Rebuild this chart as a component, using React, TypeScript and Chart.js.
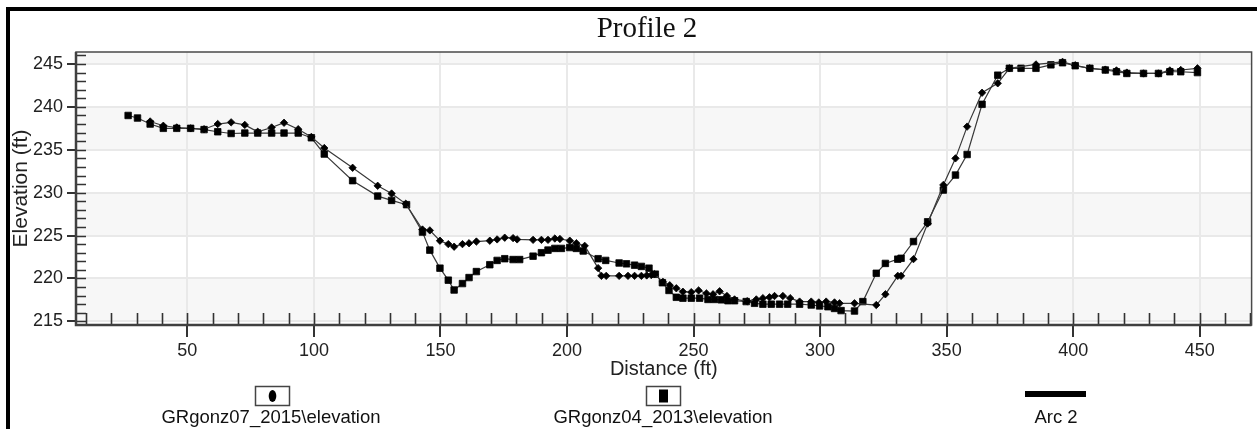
import React, { useEffect, useRef } from "react";
import { Chart, registerables } from "chart.js";

Chart.register(...registerables);

const chartTitle = "Profile 2";
const xAxisTitle = "Distance (ft)";
const yAxisTitle = "Elevation (ft)";
const legendLabels = ["GRgonz07_2015\\elevation", "GRgonz04_2013\\elevation", "Arc 2"];

const xTicks = [50, 100, 150, 200, 250, 300, 350, 400, 450];
const yTicks = [215, 220, 225, 230, 235, 240, 245];

// GRgonz07_2015 (diamonds)
const x2015 = [
  35.3, 40.5, 45.8, 51.3, 56.6, 62.0, 67.3, 72.7, 77.8, 83.3, 88.2, 93.8, 99.0, 104.1, 115.3, 125.2,
  130.7, 136.3, 142.9, 145.8, 149.8, 153.1, 155.4, 158.7, 161.3, 164.2, 169.5, 172.4, 175.4, 178.7,
  180.3, 186.6, 189.9, 192.5, 195.2, 197.2, 201.1, 203.7, 207.0, 212.3, 213.6, 215.5, 220.6, 224.1,
  226.7, 229.4, 231.5, 233.3, 234.6, 237.9, 240.6, 243.2, 245.8, 249.1, 252.0, 255.1, 257.7, 260.3,
  263.2, 266.2, 271.2, 274.8, 277.4, 280.0, 282.0, 285.3, 288.2, 291.9, 296.5, 299.5, 302.4, 305.7,
  307.7, 313.6, 322.2, 325.8, 330.7, 332.0, 336.9, 342.5, 348.7, 353.5, 358.1, 364.0, 370.2, 374.8,
  385.3, 395.8, 400.8, 406.6, 412.7, 417.1, 421.2, 427.8, 433.7, 438.2, 442.5, 449.1,
];
const y2015 = [
  238.3, 237.8, 237.6, 237.5, 237.4, 238.0, 238.2, 237.9, 237.1, 237.6, 238.15, 237.4, 236.5, 235.2, 232.9, 230.8,
  229.9, 228.7, 225.7, 225.6, 224.4, 224.0, 223.7, 224.0, 224.1, 224.3, 224.4, 224.55, 224.75, 224.7,
  224.55, 224.5, 224.5, 224.5, 224.65, 224.6, 224.4, 224.1, 223.8, 221.2, 220.3, 220.3, 220.3, 220.3,
  220.3, 220.3, 220.35, 220.4, 220.5, 219.6, 219.2, 218.85, 218.45, 218.4, 218.6, 218.25, 218.15, 218.5,
  217.95, 217.55, 217.35, 217.55, 217.7, 217.8, 217.95, 217.95, 217.7, 217.3, 217.3, 217.2, 217.3, 217.2,
  217.1, 217.1, 216.9, 218.15, 220.3, 220.3, 222.25, 226.4, 230.9, 234.0, 237.7, 241.65, 242.75, 244.5,
  244.95, 245.25, 244.85, 244.5, 244.35, 244.25, 244.0, 243.9, 243.9, 244.25, 244.3, 244.5,
];

// GRgonz04_2013 (squares)
const x2013 = [
  26.6, 30.3, 35.3, 40.5, 45.8, 51.3, 56.6, 62.0, 67.3, 72.7, 77.8, 83.3, 88.2, 93.8, 99.0, 104.1,
  115.3, 125.2, 130.7, 136.6, 142.9, 145.8, 149.8, 153.1, 155.4, 158.7, 161.3, 164.2, 169.5, 172.4,
  175.4, 178.7, 181.3, 186.6, 189.9, 192.5, 195.2, 197.8, 201.1, 203.7, 206.4, 212.3, 215.3, 220.6,
  223.5, 226.7, 229.4, 232.4, 234.9, 237.7, 240.3, 243.2, 245.8, 249.1, 252.4, 255.7, 258.3, 261.0,
  263.6, 266.2, 270.8, 274.1, 277.4, 280.7, 284.0, 287.2, 291.9, 296.5, 299.8, 303.1, 305.7, 308.3,
  313.6, 316.9, 322.2, 325.8, 330.7, 332.0, 336.9, 342.5, 348.7, 353.5, 358.1, 364.0, 370.2, 374.8,
  379.4, 385.3, 391.2, 395.8, 400.8, 406.6, 412.7, 417.1, 421.2, 427.8, 433.7, 438.2, 442.5, 449.1,
];
const y2013 = [
  239.0, 238.7, 238.0, 237.5, 237.5, 237.5, 237.35, 237.1, 236.9, 236.95, 236.95, 236.95, 236.95, 236.95, 236.4, 234.5,
  231.4, 229.6, 229.1, 228.6, 225.4, 223.3, 221.2, 219.8, 218.65, 219.4, 220.1, 220.8, 221.6, 222.1,
  222.3, 222.2, 222.2, 222.6, 223.0, 223.3, 223.5, 223.5, 223.6, 223.5, 223.2, 222.3, 222.1, 221.8,
  221.7, 221.55, 221.4, 221.2, 220.5, 219.5, 218.6, 217.8, 217.7, 217.7, 217.7, 217.55, 217.55, 217.5,
  217.4, 217.4, 217.3, 217.1, 217.0, 217.0, 217.0, 217.0, 217.0, 216.9, 216.8, 216.7, 216.5, 216.25,
  216.2, 217.3, 220.6, 221.75, 222.25, 222.35, 224.3, 226.6, 230.3, 232.05, 234.45, 240.3, 243.7, 244.5,
  244.5, 244.5, 244.9, 245.15, 244.8, 244.5, 244.3, 244.1, 243.9, 243.9, 243.9, 244.1, 244.1, 244.0,
];

const SANS = "Arial, 'Liberation Sans', sans-serif";
const SERIF = "'Times New Roman', 'Liberation Serif', serif";

const decorPlugin = {
  id: "decor",
  beforeDraw(chart: any) {
    const { ctx, chartArea: a, scales } = chart;
    const ys = scales.y;
    ctx.save();
    ctx.fillStyle = "#ffffff";
    ctx.fillRect(0, 0, chart.width, chart.height);
    ctx.beginPath();
    ctx.rect(a.left, a.top, a.right - a.left, a.bottom - a.top);
    ctx.clip();
    for (let v = 210; v < 250; v += 5) {
      const idx = Math.round((v - 215) / 5);
      if (idx % 2 === 0) {
        const y1 = ys.getPixelForValue(v + 5);
        const y0 = ys.getPixelForValue(v);
        ctx.fillStyle = "#f7f7f7";
        ctx.fillRect(a.left, y1, a.right - a.left, y0 - y1);
      }
    }
    ctx.restore();
  },
  afterDraw(chart: any) {
    const { ctx, chartArea: a, scales } = chart;
    const xs = scales.x;
    const ys = scales.y;
    ctx.save();
    // minor ticks (inside)
    ctx.strokeStyle = "#333";
    ctx.lineWidth = 1.6;
    ctx.beginPath();
    for (let v = 215; v <= 246; v += 1) {
      const y = Math.round(ys.getPixelForValue(v)) + 0.5;
      ctx.moveTo(a.left, y);
      ctx.lineTo(a.left + 10, y);
    }
    for (let v = 10; v <= 470; v += 10) {
      const x = Math.round(xs.getPixelForValue(v)) + 0.5;
      ctx.moveTo(x, a.bottom);
      ctx.lineTo(x, a.bottom - 12);
    }
    ctx.stroke();
    // frame
    ctx.strokeStyle = "#4a4a4a";
    ctx.lineWidth = 1.5;
    ctx.strokeRect(a.left, a.top, a.right - a.left, a.bottom - a.top);
    ctx.strokeStyle = "#404040";
    ctx.lineWidth = 2.5;
    ctx.beginPath();
    ctx.moveTo(a.left, a.top);
    ctx.lineTo(a.left, a.bottom);
    ctx.lineTo(a.right, a.bottom);
    ctx.stroke();
    // outer border
    ctx.strokeStyle = "#000";
    ctx.lineWidth = 4;
    ctx.beginPath();
    ctx.moveTo(8, chart.height + 10);
    ctx.lineTo(8, 9);
    ctx.lineTo(chart.width + 10, 9);
    ctx.stroke();
    // title
    ctx.fillStyle = "#111";
    ctx.font = `29px ${SERIF}`;
    ctx.textAlign = "center";
    ctx.textBaseline = "alphabetic";
    ctx.fillText(chartTitle, 647, 37);
    // legend
    ctx.strokeStyle = "#444";
    ctx.lineWidth = 1.5;
    ctx.fillStyle = "#fff";
    ctx.fillRect(255.5, 386.5, 34, 19);
    ctx.strokeRect(255.5, 386.5, 34, 19);
    ctx.fillRect(646.5, 386.5, 34, 19);
    ctx.strokeRect(646.5, 386.5, 34, 19);
    ctx.fillStyle = "#000";
    ctx.beginPath();
    ctx.ellipse(272.5, 396, 3.8, 6, 0, 0, Math.PI * 2);
    ctx.fill();
    ctx.fillRect(659, 389.5, 9, 13);
    ctx.fillRect(1025, 391, 61, 6);
    ctx.fillStyle = "#111";
    ctx.font = `18.5px ${SANS}`;
    ctx.textBaseline = "middle";
    ctx.fillText(legendLabels[0], 271, 418);
    ctx.fillText(legendLabels[1], 663, 418);
    ctx.fillText(legendLabels[2], 1056, 418);
    ctx.restore();
  },
};

export default function App() {
  const ref = useRef<HTMLCanvasElement | null>(null);
  useEffect(() => {
    if (!ref.current) return;
    const d2015 = x2015.map((x, i) => ({ x, y: y2015[i] }));
    const d2013 = x2013.map((x, i) => ({ x, y: y2013[i] }));
    const chart = new Chart(ref.current, {
      type: "line",
      data: {
        datasets: [
          {
            label: legendLabels[0],
            data: d2015,
            borderColor: "#3a3a3a",
            borderWidth: 1.2,
            pointStyle: "rectRot",
            pointRadius: 3.7,
            pointBackgroundColor: "#000",
            pointBorderColor: "#000",
            pointBorderWidth: 0.8,
            tension: 0,
          },
          {
            label: legendLabels[1],
            data: d2013,
            borderColor: "#3a3a3a",
            borderWidth: 1.2,
            pointStyle: "rect",
            pointRadius: 4.6,
            pointBackgroundColor: "#000",
            pointBorderColor: "#000",
            pointBorderWidth: 0.8,
            tension: 0,
          },
        ],
      },
      options: {
        responsive: false,
        maintainAspectRatio: false,
        animation: false,
        devicePixelRatio: 1,
        layout: { padding: { left: 0, top: 52, right: 5, bottom: 0 } },
        plugins: { legend: { display: false }, title: { display: false }, tooltip: { enabled: false } },
        scales: {
          x: {
            type: "linear",
            min: 6,
            max: 470.5,
            afterBuildTicks: (s: any) => {
              s.ticks = xTicks.map((v) => ({ value: v }));
            },
            afterFit: (s: any) => {
              s.height = 104;
            },
            grid: { color: "#e9e9e9", lineWidth: 2, tickColor: "#333", tickLength: 12, tickWidth: 2 },
            border: { display: false },
            ticks: { color: "#222", font: { family: SANS, size: 18 }, padding: 3, maxRotation: 0 },
            title: {
              display: true,
              text: xAxisTitle,
              color: "#222",
              font: { family: SANS, size: 20 },
              padding: { top: 0, bottom: 48 },
            },
          },
          y: {
            type: "linear",
            min: 214.57,
            max: 246.4,
            afterBuildTicks: (s: any) => {
              s.ticks = yTicks.map((v) => ({ value: v }));
            },
            afterFit: (s: any) => {
              s.width = 76;
            },
            grid: { color: "#e9e9e9", lineWidth: 2, tickColor: "#333", tickLength: 9, tickWidth: 2 },
            border: { display: false },
            ticks: { color: "#222", font: { family: SANS, size: 18 }, padding: 4 },
            title: {
              display: true,
              text: yAxisTitle,
              color: "#222",
              font: { family: SANS, size: 21 },
              padding: { top: 9, bottom: 0 },
            },
          },
        },
      },
      plugins: [decorPlugin],
    });
    return () => chart.destroy();
  }, []);
  return (
    <canvas
      ref={ref}
      width={1257}
      height={429}
      style={{ position: "fixed", left: 0, top: 0, width: "1257px", height: "429px" }}
    />
  );
}
